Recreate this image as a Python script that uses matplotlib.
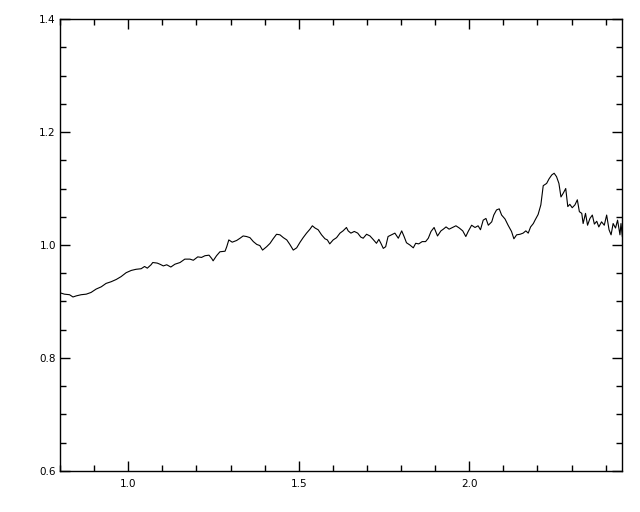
import matplotlib
matplotlib.use("Agg")
import matplotlib.pyplot as plt
from matplotlib.ticker import MultipleLocator, FormatStrFormatter

wavelength = [
    0.802, 0.813, 0.828, 0.838, 0.848, 0.862, 0.877, 0.891, 0.906, 0.921,
    0.935, 0.950, 0.965, 0.979, 0.994, 1.009, 1.023, 1.038, 1.048, 1.056,
    1.067, 1.072, 1.085,
    1.093, 1.103, 1.113, 1.125, 1.137, 1.152, 1.166, 1.181, 1.191, 1.204,
    1.215, 1.225, 1.237, 1.245, 1.249, 1.259, 1.269, 1.284, 1.289, 1.295,
    1.305, 1.318, 1.328, 1.337, 1.347, 1.357, 1.367,
    1.377, 1.386, 1.394, 1.406, 1.416, 1.425, 1.435, 1.445, 1.455, 1.465,
    1.474, 1.484, 1.494, 1.504, 1.513, 1.523, 1.533, 1.540, 1.548, 1.557,
    1.567, 1.577, 1.584, 1.591, 1.601, 1.611, 1.621, 1.630, 1.640,
    1.645, 1.653, 1.663, 1.673, 1.682, 1.689, 1.699, 1.709, 1.718, 1.728,
    1.735, 1.741, 1.748, 1.755, 1.762, 1.772, 1.782, 1.792, 1.802, 1.809,
    1.816, 1.826, 1.836, 1.843, 1.852, 1.862, 1.872, 1.880, 1.888, 1.897,
    1.907, 1.917, 1.924,
    1.932, 1.941, 1.951, 1.961, 1.971, 1.981, 1.990, 1.997, 2.007, 2.017,
    2.026, 2.033, 2.041, 2.049, 2.056, 2.066, 2.072, 2.080, 2.088, 2.095,
    2.105, 2.114, 2.124, 2.131, 2.139, 2.149, 2.158, 2.166, 2.173, 2.180,
    2.188,
    2.193, 2.202, 2.210, 2.217, 2.227, 2.234, 2.242, 2.249, 2.256, 2.263,
    2.269, 2.276, 2.283, 2.289, 2.295, 2.302, 2.310, 2.317, 2.323, 2.330,
    2.334, 2.341, 2.347, 2.354, 2.361, 2.367, 2.374, 2.380, 2.388, 2.396,
    2.403, 2.410, 2.416, 2.422, 2.429, 2.435, 2.442, 2.445, 2.449,
]

flux = [
    0.915, 0.913, 0.912, 0.908, 0.910, 0.912, 0.913, 0.916, 0.922, 0.926,
    0.932, 0.935, 0.939, 0.944, 0.951, 0.955, 0.957, 0.958, 0.962, 0.959,
    0.965, 0.969, 0.968,
    0.966, 0.963, 0.965, 0.961, 0.966, 0.969, 0.975, 0.975, 0.973, 0.979,
    0.978, 0.981, 0.982, 0.976, 0.972, 0.981, 0.988, 0.989, 0.997, 1.009,
    1.005, 1.008, 1.012, 1.016, 1.015, 1.013, 1.006,
    1.001, 0.999, 0.991, 0.997, 1.003, 1.011, 1.019, 1.018, 1.013, 1.009,
    1.001, 0.991, 0.995, 1.005, 1.013, 1.021, 1.028, 1.034, 1.030, 1.027,
    1.018, 1.011, 1.009, 1.002, 1.009, 1.013, 1.021, 1.025, 1.031,
    1.025, 1.021, 1.024, 1.021, 1.014, 1.012, 1.019, 1.016, 1.010, 1.003,
    1.010, 1.003, 0.994, 0.997, 1.015, 1.018, 1.021, 1.012, 1.025, 1.015,
    1.004, 1.000, 0.995, 1.003, 1.002, 1.006, 1.006, 1.012, 1.024, 1.031,
    1.016, 1.025, 1.028,
    1.032, 1.028, 1.031, 1.034, 1.030, 1.025, 1.015, 1.024, 1.035, 1.031,
    1.034, 1.027, 1.044, 1.047, 1.035, 1.041, 1.053, 1.062, 1.064, 1.053,
    1.046, 1.035, 1.024, 1.011, 1.018, 1.019, 1.021, 1.025, 1.021, 1.032,
    1.038,
    1.044, 1.054, 1.071, 1.105, 1.109, 1.117, 1.124, 1.127, 1.121, 1.109,
    1.085, 1.092, 1.100, 1.068, 1.072, 1.066, 1.071, 1.080, 1.059, 1.056,
    1.038, 1.056, 1.035, 1.047, 1.053, 1.037, 1.042, 1.032, 1.041, 1.035,
    1.053, 1.027, 1.018, 1.038, 1.030, 1.044, 1.018, 1.038, 1.015,
]

x_limits = (0.8, 2.448)
y_limits = (0.6, 1.4)

fig = plt.figure(figsize=(6.4, 5.12), dpi=100)
ax = fig.add_axes([60 / 640, 41 / 512, 562 / 640, 452 / 512])
ax.plot(wavelength, flux, color="black", lw=0.8)

ax.set_xlim(*x_limits)
ax.set_ylim(*y_limits)
ax.xaxis.set_major_locator(MultipleLocator(0.5))
ax.xaxis.set_minor_locator(MultipleLocator(0.1))
ax.yaxis.set_major_locator(MultipleLocator(0.2))
ax.yaxis.set_minor_locator(MultipleLocator(0.05))
ax.xaxis.set_major_formatter(FormatStrFormatter("%.1f"))
ax.yaxis.set_major_formatter(FormatStrFormatter("%.1f"))

ax.tick_params(which="both", direction="in", top=True, right=True,
               color="black", width=1.0, labelsize=7.5)
ax.tick_params(which="major", length=7.5)
ax.tick_params(which="minor", length=4)
ax.tick_params(axis="x", which="major", pad=6)
ax.tick_params(axis="y", which="major", pad=3)
for s in ax.spines.values():
    s.set_linewidth(1.0)
    s.set_color("black")

fig.savefig("out.png", dpi=100)
